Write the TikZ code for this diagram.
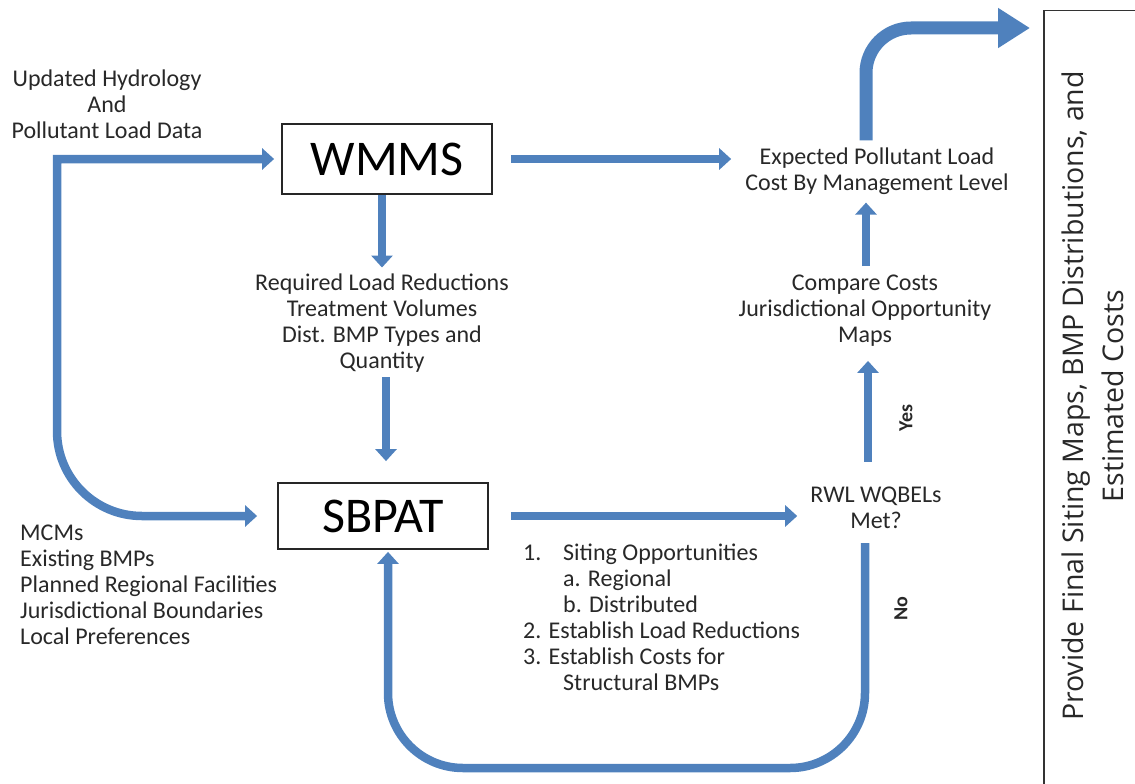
\documentclass[tikz,border=0pt]{standalone}
\usepackage{fontspec}
\setmainfont{Carlito}
\newfontfamily\finalfont{Open Sans}
\usetikzlibrary{arrows.meta,calc}
\definecolor{arrowblue}{RGB}{79,129,189}
\definecolor{txtgray}{RGB}{40,40,40}
\begin{document}
\begin{tikzpicture}[x=1pt,y=-1pt,
  lbl/.style={font=\fontsize{24}{26}\selectfont, align=center, inner sep=0pt, text=txtgray},
  procbox/.style={draw=black!85, line width=1.8pt, minimum width=210pt, minimum height=70pt, inner sep=0pt, font=\fontsize{50}{60}\selectfont},
  flow/.style={draw=arrowblue, line width=8.5pt, >={Triangle[length=12pt,width=21pt]}},
  bigflow/.style={draw=arrowblue, line width=13pt, >={Triangle[length=32pt,width=38pt]}},
  yn/.style={font=\bfseries\fontsize{20}{22}\selectfont, text=txtgray, inner sep=0pt, rotate=90}
]
\useasboundingbox (0,0) rectangle (1135,784);
\clip (0,0) rectangle (1135,784);

% boxes
\node[procbox] (wmms) at (387,159) {WMMS};
\node[procbox, minimum height=66pt] (sbpat) at (383,516) {SBPAT};
\node[draw=black!80, line width=1.5pt, minimum width=160pt, minimum height=800pt, anchor=north west, inner sep=0pt] (final) at (1043,10) {};

% texts
\node[lbl] (upd) at (107,104) {Updated Hydrology\\And\\Pollutant Load Data};
\node[lbl] (exp) at (877,171) {Expected Pollutant Load\\Cost By Management Level};
\node[lbl] (req) at (382,323) {Required Load Reductions\\Treatment Volumes\\Dist. BMP Types and\\Quantity};
\node[lbl] (cmp) at (865,311) {Compare Costs\\Jurisdictional Opportunity\\Maps};
\node[lbl] (rwl) at (876,508) {RWL WQBELs\\Met?};
\node[lbl, align=left, anchor=north west] (inputs) at (20,525) {MCMs\\Existing BMPs\\Planned Regional Facilities\\Jurisdictional Boundaries\\Local Preferences};
\node[lbl, align=left, anchor=north west] (steps) at (523,544) {\makebox[40pt][l]{1.}Siting Opportunities\\\hspace*{40pt}a. Regional\\\hspace*{40pt}b. Distributed\\2. Establish Load Reductions\\3. Establish Costs for\\\hspace*{40pt}Structural BMPs};
\node[yn] (yes) at (906,418) {Yes};
\node[yn] (no) at (901,609) {No};
\node[rotate=90, align=center, inner sep=0pt, text=txtgray, font=\finalfont\fontsize{28.5}{40}\selectfont] (finaltxt) at (1093,396) {Provide Final Siting Maps, BMP Distributions, and\\Estimated Costs};

% connectors
\coordinate (lcorner) at (57,159);
\draw[flow,<->] ($(wmms.west)+(-7,0)$) -- (lcorner) -- (57,431) .. controls (57,478) and (95,516) .. (142,516) -- ($(sbpat.west)+(-20,0)$);
\draw[flow,->] ($(wmms.east)+(18,0)$) -- ($(exp.west |- wmms.east)+(-14,0)$);
\draw[flow,->] (req.north |- wmms.south) -- ($(req.north)+(0,-6)$);
\draw[flow,->] ($(req.south)+(4,5)$) -- ($(req.south |- sbpat.north)+(4,-21)$);
\draw[flow,->] ($(sbpat.east)+(22,0)$) -- ($(rwl.west |- sbpat.east)+(-13,0)$);
\draw[flow,->] ($(rwl.north)+(-8,-25)$) -- ($(rwl.north |- cmp.south)+(-8,14)$);
\draw[flow,->] ($(cmp.north)+(1,-9)$) -- ($(cmp.north |- exp.south)+(1,8)$);
\coordinate (topstart) at ($(exp.north)+(-11,-7)$);
\coordinate (topend) at ($(final.north west)+(-13,18)$);
\draw[bigflow,->, rounded corners=45pt] (topstart) |- (topend);
\coordinate (loopA) at ($(rwl.south)+(-11,14)$);
\coordinate (loopB) at ($(sbpat.south)+(5,2)$);
\coordinate (loopy) at (0,768);
\draw[flow,->, rounded corners=75pt] (loopA) -- (loopA |- loopy) -- (loopB |- loopy) -- (loopB);
\end{tikzpicture}
\end{document}
